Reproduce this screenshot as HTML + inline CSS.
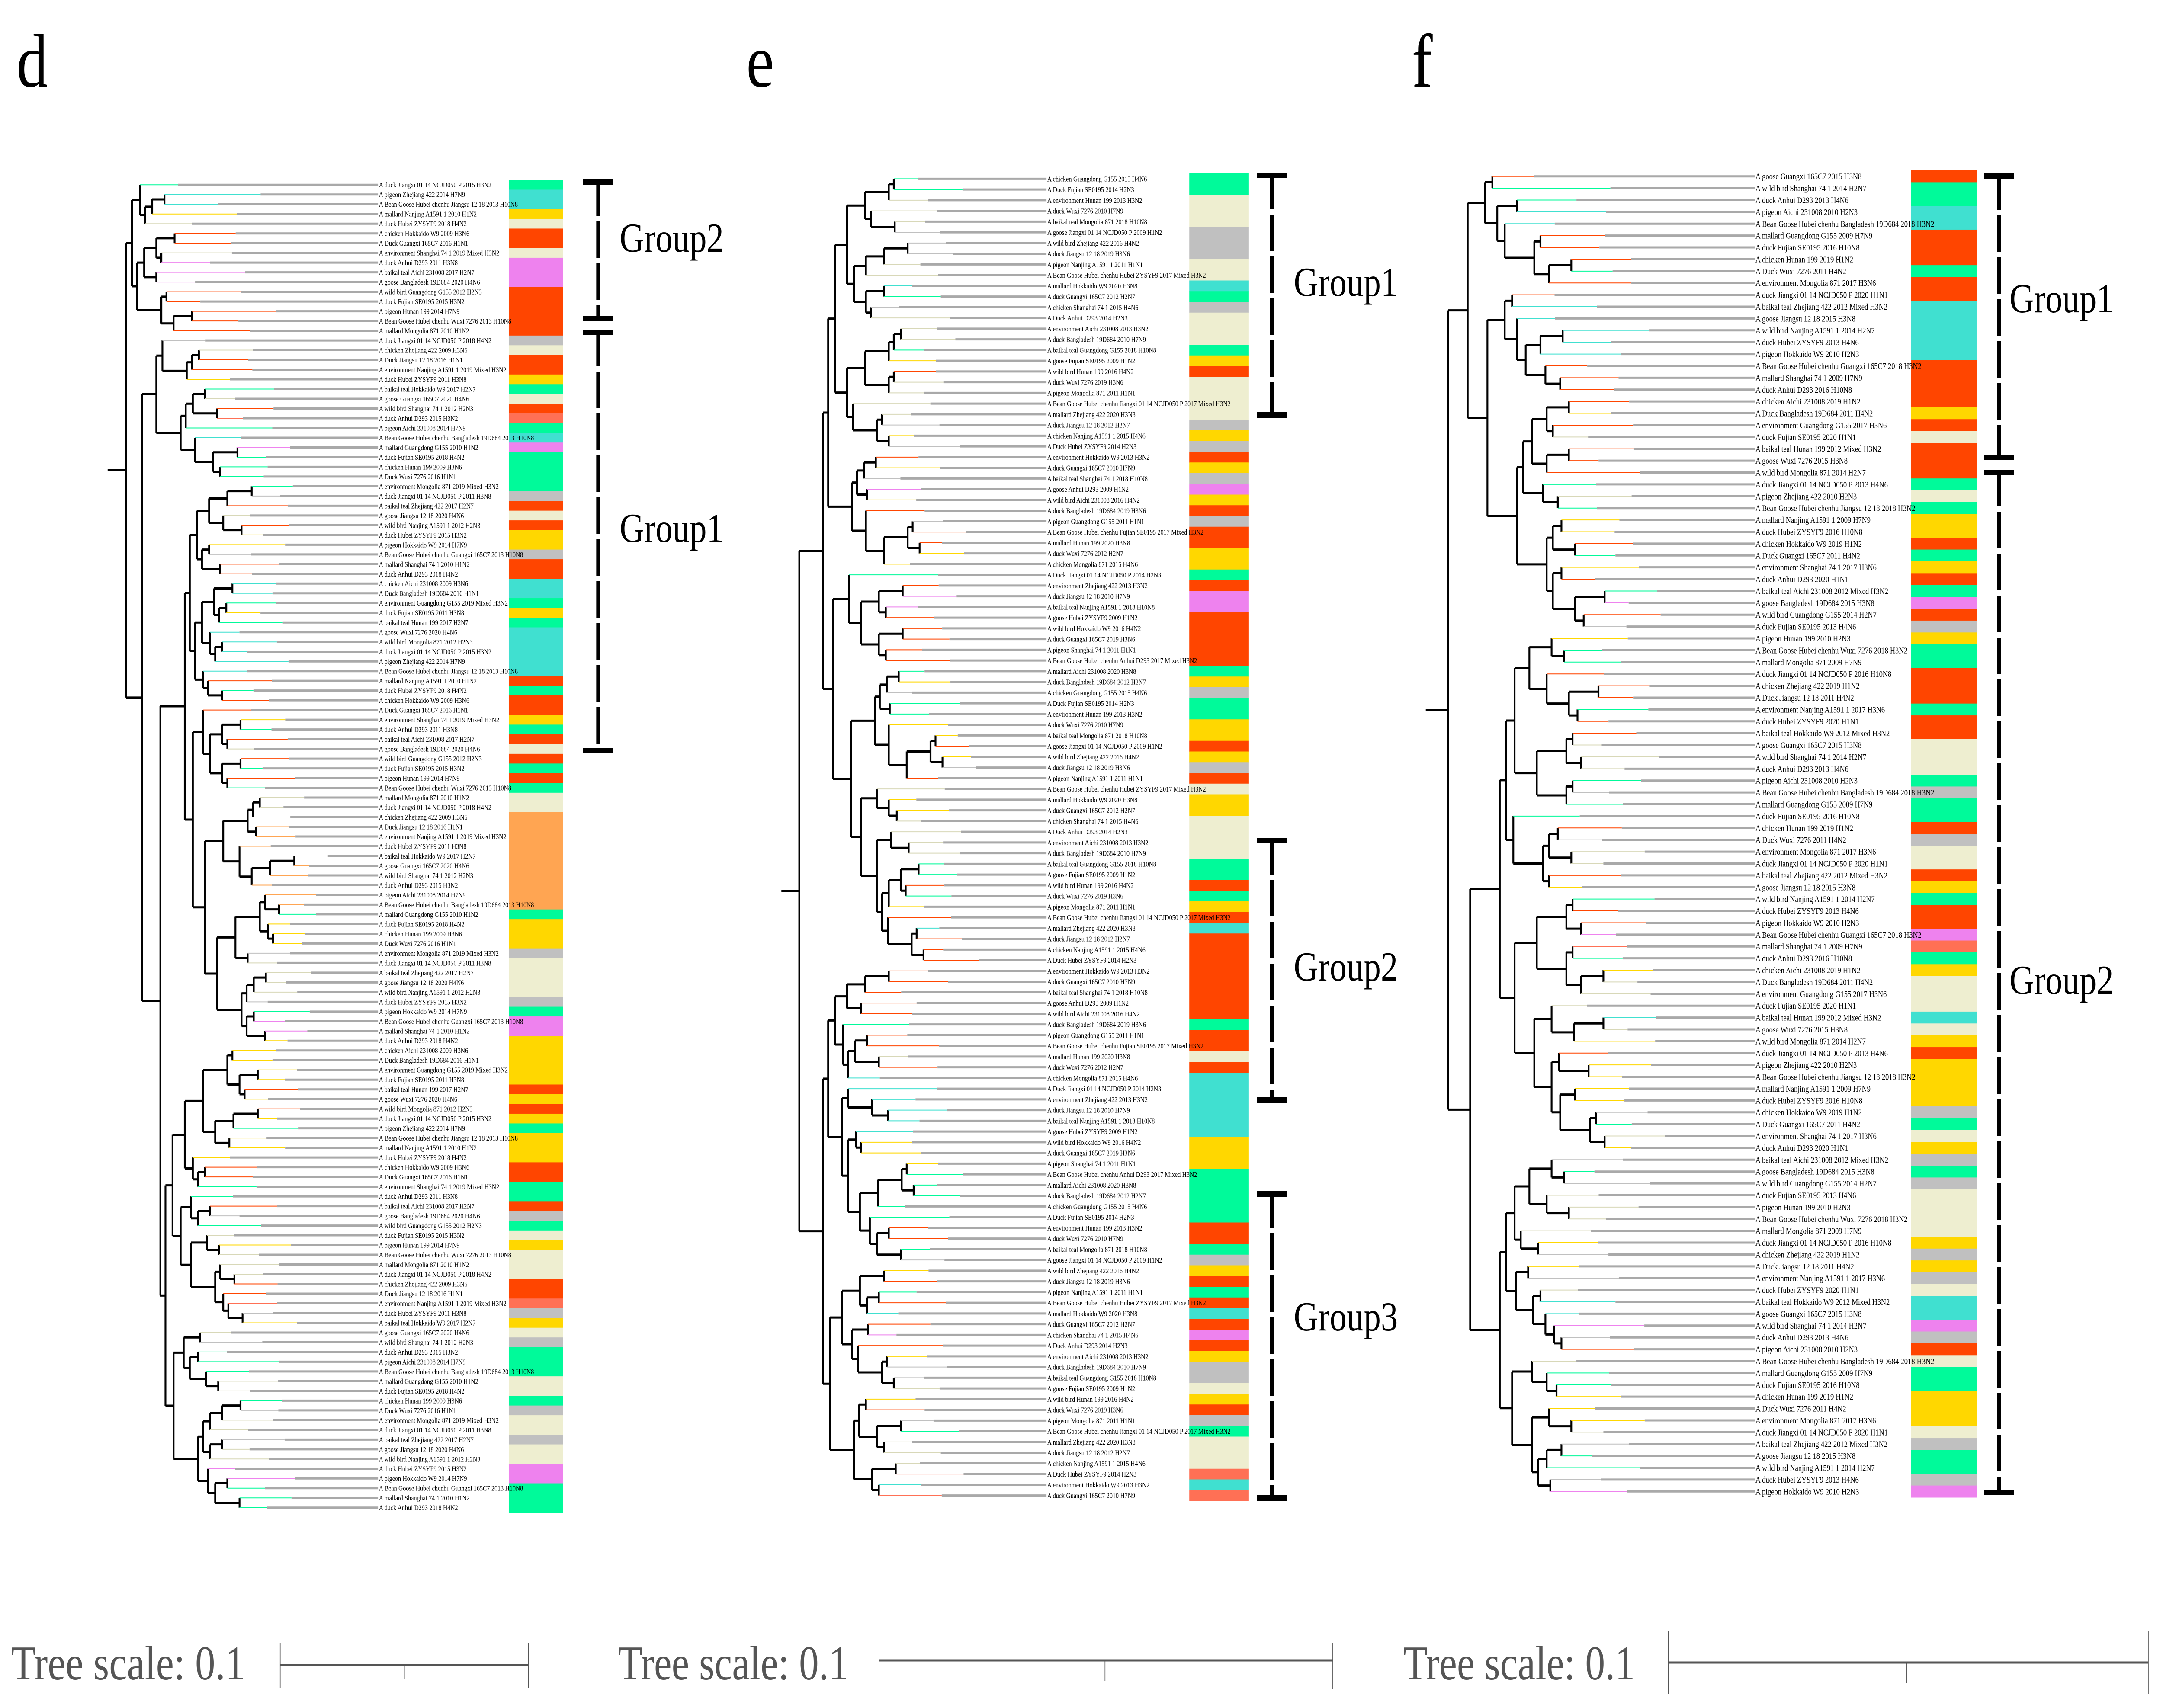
<!DOCTYPE html>
<html><head><meta charset="utf-8"><title>Phylogenetic trees d, e, f</title>
<style>html,body{margin:0;padding:0;background:#fff;width:100%;height:100%;overflow:hidden}svg{display:block;position:fixed;left:0;top:0;width:100vw;height:100vh}</style></head>
<body>
<svg id="fig" xmlns="http://www.w3.org/2000/svg" viewBox="0 0 6029 3949" preserveAspectRatio="none" font-family="'Liberation Serif', serif">
<rect width="6029" height="3949" fill="#fff"/>
<text x="46" y="200" font-size="175">d</text>
<text x="2080" y="200" font-size="175">e</text>
<text x="3935" y="200" font-size="175">f</text>
<g id="layer"></g>
</svg>
<script>
// strip category data (code + leaf count)
const stripD = ['G1','T2','Y1','B1','R2','B1','P3','R5','S1','B1','R2','Y1','G1','B1','R1','C1','G1','T1','P1','G4','S1','R1','B1','R1','Y2','S1','R2','T2','G1','Y1','G1','T5','R1','G1','R2','Y1','G1','R1','B1','R1','G1','R1','G1','B2','O10','G1','Y3','S1','B4','S1','G1','P2','Y5','R1','Y1','R1','Y1','G1','Y3','R2','G2','R1','S1','G1','B1','Y1','B3','R2','C1','S1','Y1','B1','S1','G3','B2','G1','S1','B2','S1','B2','P2','G3'];
const stripE = ['G2','B3','S3','B2','T1','G1','S1','B3','G1','Y1','R1','B4','S1','Y1','S1','R1','Y1','S1','P1','Y1','R1','S1','R2','Y2','G1','R1','P2','R5','G1','Y1','S1','G2','Y2','R1','Y1','S1','R1','B1','Y2','B4','G2','R1','G1','Y1','R1','T1','R8','G1','R2','B1','R1','T6','Y3','G5','R2','G1','S1','Y1','R1','G1','R1','T1','R1','P1','R1','Y1','S2','B1','Y1','R1','S1','G1','B3','C1','T1','C1'];
const stripF = ['R1','G2','T2','R3','G1','R2','T5','R4','Y1','R1','B1','R3','G1','B1','G1','Y2','R1','G1','Y1','R1','G1','P1','R1','S1','Y1','G2','R3','G1','R2','B3','G1','S1','G2','R1','S1','B2','R1','Y1','G1','R2','P1','C1','G1','Y1','B3','T1','B1','Y1','R1','Y4','S1','G1','B1','Y1','S1','G1','S1','B4','Y1','S1','Y1','S1','B1','T2','P1','S1','R1','B1','G2','Y3','B1','S1','G2','S1','P1'];
const groupNamesD = ['Group2','Group1'];
const groupNamesE = ['Group1','Group2','Group3'];
const groupNamesF = ['Group1','Group2'];
const scaleLabels = ['Tree scale: 0.1','Tree scale: 0.1','Tree scale: 0.1'];
const HOSTS = ['duck','chicken','goose','mallard','duck','pigeon','Duck','wild bird','duck','baikal teal','Bean Goose Hubei chenhu','environment'];
const PLACES = ['Jiangxi 01 14 NCJD050 P','Guangdong G155','Guangxi 165C7','Zhejiang 422','Fujian SE0195','Shanghai 74 1','Jiangsu 12 18','Hunan 199','Anhui D293','Nanjing A1591 1','Wuxi 7276','Aichi 231008','Hubei ZYSYF9','Mongolia 871','Bangladesh 19D684','Hokkaido W9'];
const YEARS = ['2015','2019','2013','2017','2018','2012','2016','2014','2011','2010','2020','2009'];
const SUBS = ['H3N2','H3N6','H4N6','H1N2','H3N8','H7N9','H1N1','H2N3','H4N2','H2N7','H10N8','Mixed H3N2'];

const COL = {G:'#00FA9A',T:'#40E0D0',Y:'#FFD700',B:'#EEEED0',R:'#FF4500',P:'#EE82EE',S:'#C0C0C0',C:'#FF7055',O:'#FFA552'};
const FR = [0.12,0.45,0.3,0.6,0.2,0.5,0.35,0.7,0.25,0.55,0.15,0.4];
const STEP = [0.6,0.3,0.9,0.4,1.2,0.5,0.25,0.8,0.35,0.7];
const NS = 'http://www.w3.org/2000/svg';
const layer = document.getElementById('layer');
function mk(tag, attrs, parent){const e=document.createElementNS(NS,tag);for(const k in attrs)e.setAttribute(k,attrs[k]);(parent||layer).appendChild(e);return e;}

const panels = [
 {key:'d',strip:stripD,rootX:300,labelX:1054,sx:1418,sw:151,top:416,bot:3497,fs:17,bx:1667,gx:1727,groups:groupNamesD,gy:[[415,743,549],[762,1742,1220]],
  st:{tx:31,tw:653,bx0:781,bx1:1473,ty0:3799,ty1:3902,hy:3850,mx:1127,my:3883}},
 {key:'e',strip:stripE,rootX:2178,labelX:2917,sx:3315,sw:166,top:401,bot:3470,fs:17,bx:3545,gx:3606,groups:groupNamesE,gy:[[399,966,651],[1937,2550,2234],[2754,3470,3043]],
  st:{tx:1723,tw:642,bx0:2450,bx1:3715,ty0:3798,ty1:3904,hy:3839,mx:3080,my:3887}},
 {key:'f',strip:stripF,rootX:3974,labelX:4891,sx:5326,sw:184,top:394,bot:3462,fs:20,bx:5572,gx:5601,groups:groupNamesF,gy:[[400,1064,689],[1086,3457,2265]],
  st:{tx:3911,tw:646,bx0:4650,bx1:5988,ty0:3771,ty1:3917,hy:3844,mx:5315,my:3892}}
];

panels.forEach((p,pi)=>{
  const g = mk('g',{});
  
  
  const leafCol=[];
  p.strip.forEach(s=>{const c=s[0],n=parseInt(s.slice(1));for(let i=0;i<n;i++)leafCol.push(c);});
  const N=leafCol.length, rowH=(p.bot-p.top)/N;
  let idx=0;
  p.strip.forEach((s,si)=>{
    const c=s[0],n=parseInt(s.slice(1));
    const r=mk('rect',{x:p.sx,y:p.top+idx*rowH,width:p.sw,height:n*rowH+0.5,fill:COL[c]},g);
    
    
    idx+=n;
  });
  let cnt=pi*3;
  const unit=(p.labelX-p.rootX)*0.075, maxX=p.labelX-170;
  const tg=mk('g',{},g);
  function build(lo,hi,x){
    if(hi-lo===1){return {leaf:lo,y:p.top+(lo+0.5)*rowH};}
    const f=FR[cnt%FR.length];cnt++;
    let k=lo+Math.round((hi-lo)*f);k=Math.max(lo+1,Math.min(hi-1,k));
    const kids=[[lo,k],[k,hi]].map(([a,b])=>{
      const cx=Math.min(maxX,x+unit*STEP[cnt%STEP.length]);cnt++;
      const ch=build(a,b,cx);ch.x=cx;return ch;});
    const y0=kids[0].y,y1=kids[1].y;
    mk('line',{x1:x,y1:y0,x2:x,y2:y1,stroke:'#000','stroke-width':5},tg);
    kids.forEach(ch=>{
      if(ch.leaf!==undefined){
        const c=leafCol[ch.leaf];
        const gx=x+(p.labelX-x)*(0.1+0.5*FR[(ch.leaf*7)%FR.length]);
        mk('line',{x1:x,y1:ch.y,x2:gx,y2:ch.y,stroke:c==='B'?'#d8d8b8':COL[c],'stroke-width':2},tg);
        mk('line',{x1:gx,y1:ch.y,x2:p.labelX,y2:ch.y,stroke:'#a9a9a9','stroke-width':5},tg);
        const t=mk('text',{x:p.labelX+2,y:ch.y+p.fs*0.35,'font-size':p.fs},tg);
        t.textContent='A '+HOSTS[(ch.leaf*5+pi)%HOSTS.length]+' '+PLACES[(ch.leaf*3+pi)%PLACES.length]+' '+YEARS[(ch.leaf*7)%YEARS.length]+' '+SUBS[(ch.leaf*5+pi*2)%SUBS.length];
        
        
      } else {
        mk('line',{x1:x,y1:ch.y,x2:ch.x,y2:ch.y,stroke:'#000','stroke-width':5},tg);
      }
    });
    return {y:(y0+y1)/2};
  }
  const x0=p.rootX+unit*0.9;
  const root=build(0,N,x0);
  mk('line',{x1:p.rootX,y1:root.y,x2:x0,y2:root.y,stroke:'#000','stroke-width':5},tg);
  p.gy.forEach((gr,gi)=>{
    const bg=mk('g',{},g);
    
    
    mk('line',{x1:p.bx,y1:gr[0],x2:p.bx,y2:gr[1],stroke:'#000','stroke-width':10,'stroke-dasharray':'85 12'},bg);
    mk('rect',{x:p.bx-42,y:gr[0],width:84,height:13,fill:'#000'},bg);
    mk('rect',{x:p.bx-42,y:gr[1]-13,width:84,height:13,fill:'#000'},bg);
    const t=mk('text',{x:p.gx,y:gr[2]+33,'font-size':95},bg);
    t.textContent=p.groups[gi];
    
    
  });
  const s=p.st;
  const sg=mk('g',{},g);
  
  
  const st=mk('text',{x:s.tx,y:3883,'font-size':112,fill:'#555',textLength:s.tw,lengthAdjust:'spacingAndGlyphs'},sg);
  st.textContent=scaleLabels[pi];
  mk('line',{x1:s.bx0,y1:s.hy,x2:s.bx1,y2:s.hy,stroke:'#555','stroke-width':5},sg);
  mk('line',{x1:s.bx0,y1:s.ty0,x2:s.bx0,y2:s.ty1,stroke:'#555','stroke-width':2},sg);
  mk('line',{x1:s.bx1,y1:s.ty0,x2:s.bx1,y2:s.ty1,stroke:'#555','stroke-width':2},sg);
  mk('line',{x1:s.mx,y1:s.hy,x2:s.mx,y2:s.my,stroke:'#555','stroke-width':2},sg);
});
</script>
</body></html>
